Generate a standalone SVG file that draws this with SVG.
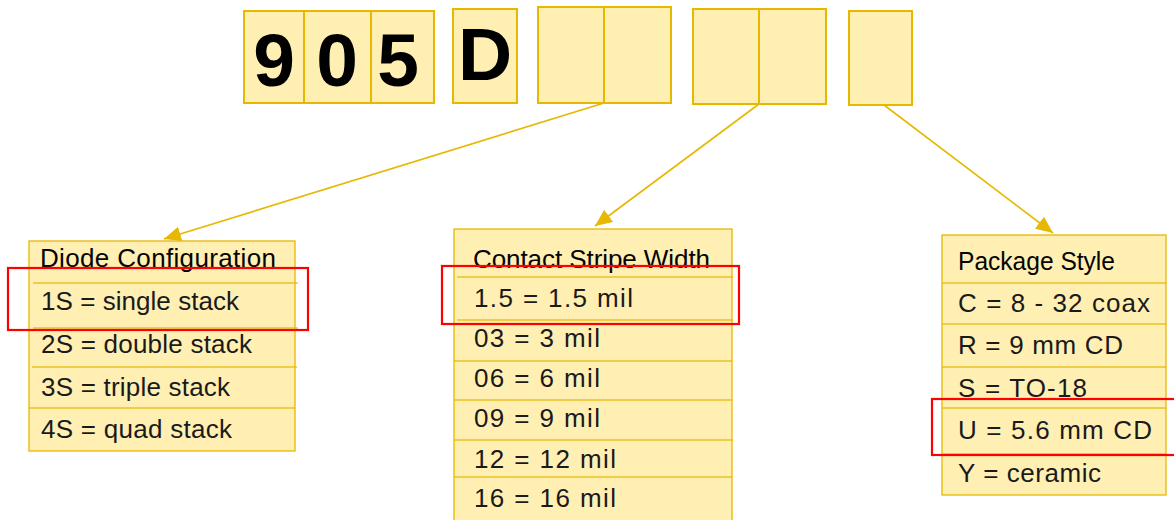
<svg xmlns="http://www.w3.org/2000/svg" width="1174" height="520" viewBox="0 0 1174 520">
  <defs>
    <style>
      .cell { fill: #FFEFB3; stroke: #E6B800; stroke-width: 2; }
      .tbl { fill: #FFEFB3; stroke: #E6B800; stroke-width: 1.3; }
      .rule { stroke: #E6B800; stroke-width: 1.3; opacity: 0.8; }
      .code { font-family: "Liberation Sans", Arial, sans-serif; font-weight: bold; font-size: 75px; fill: #000; text-anchor: middle; }
      .head { font-family: "Liberation Sans", Arial, sans-serif; font-size: 26px; fill: #050505; }
      .row { font-family: "Liberation Sans", Arial, sans-serif; font-size: 26px; fill: #1a1a1a; }
      .link { fill: none; stroke: #E6B800; stroke-width: 1.6; }
      .hl { fill: none; stroke: #FF0000; stroke-width: 2.2; }
    </style>
    <marker id="tri" viewBox="0 0 17 15" refX="17" refY="7.5" markerWidth="17" markerHeight="15" markerUnits="userSpaceOnUse" orient="auto">
      <path d="M0,0 L17,7.5 L0,15 Z" fill="#E6B800"/>
    </marker>
  </defs>

  <!-- part-number boxes -->
  <g id="prefix-905">
    <rect class="cell" x="244" y="11" width="60" height="92"/>
    <rect class="cell" x="304" y="11" width="67" height="92"/>
    <rect class="cell" x="371" y="11" width="63" height="92"/>
    <text class="code" x="274" y="86">9</text>
    <text class="code" x="337" y="86">0</text>
    <text class="code" x="398" y="86">5</text>
  </g>
  <g id="letter-d">
    <rect class="cell" x="453" y="9" width="64" height="94"/>
    <text class="code" x="485" y="80">D</text>
  </g>
  <g id="slot-config">
    <rect class="cell" x="538" y="7" width="66" height="96"/>
    <rect class="cell" x="604" y="7" width="67" height="96"/>
  </g>
  <g id="slot-width">
    <rect class="cell" x="693" y="9" width="66" height="95"/>
    <rect class="cell" x="759" y="9" width="67" height="95"/>
  </g>
  <g id="slot-package">
    <rect class="cell" x="849" y="11" width="63" height="94"/>
  </g>

  <!-- connectors -->
  <g id="connectors">
    <line class="link" x1="604" y1="103" x2="164" y2="239" marker-end="url(#tri)"/>
    <line class="link" x1="759" y1="104" x2="595" y2="226" marker-end="url(#tri)"/>
    <line class="link" x1="884" y1="105" x2="1053" y2="233" marker-end="url(#tri)"/>
  </g>

  <!-- Diode Configuration table -->
  <g id="table-config">
    <rect class="tbl" x="29" y="241" width="266" height="210"/>
    <line class="rule" x1="33" y1="283" x2="298" y2="283"/>
    <line class="rule" x1="33" y1="328" x2="298" y2="328"/>
    <line class="rule" x1="32" y1="367" x2="297" y2="367"/>
    <line class="rule" x1="29" y1="408" x2="295" y2="408"/>
    <text class="head" x="40" y="267" textLength="236" lengthAdjust="spacing">Diode Configuration</text>
    <text class="row" x="41" y="310" textLength="198" lengthAdjust="spacing">1S = single stack</text>
    <text class="row" x="41" y="353" textLength="211" lengthAdjust="spacing">2S = double stack</text>
    <text class="row" x="41" y="396" textLength="189" lengthAdjust="spacing">3S = triple stack</text>
    <text class="row" x="41" y="438" textLength="191" lengthAdjust="spacing">4S = quad stack</text>
  </g>

  <!-- Contact Stripe Width table -->
  <g id="table-width">
    <rect class="tbl" x="454" y="229" width="278" height="300"/>
    <line class="rule" x1="457" y1="277" x2="733" y2="277"/>
    <line class="rule" x1="457" y1="320" x2="733" y2="320"/>
    <line class="rule" x1="454" y1="361" x2="732" y2="361"/>
    <line class="rule" x1="454" y1="400" x2="732" y2="400"/>
    <line class="rule" x1="454" y1="440" x2="733" y2="440"/>
    <line class="rule" x1="454" y1="477" x2="732" y2="477"/>
    <text class="head" x="473" y="268" textLength="237" lengthAdjust="spacing">Contact Stripe Width</text>
    <text class="row" x="474" y="307" textLength="159" lengthAdjust="spacing">1.5 = 1.5 mil</text>
    <text class="row" x="474" y="347" textLength="126" lengthAdjust="spacing">03 = 3 mil</text>
    <text class="row" x="474" y="387" textLength="126" lengthAdjust="spacing">06 = 6 mil</text>
    <text class="row" x="474" y="427" textLength="126" lengthAdjust="spacing">09 = 9 mil</text>
    <text class="row" x="474" y="468" textLength="142" lengthAdjust="spacing">12 = 12 mil</text>
    <text class="row" x="474" y="507" textLength="142" lengthAdjust="spacing">16 = 16 mil</text>
  </g>

  <!-- Package Style table -->
  <g id="table-package">
    <rect class="tbl" x="942" y="235" width="224" height="260"/>
    <line class="rule" x1="942" y1="283" x2="1166" y2="283"/>
    <line class="rule" x1="942" y1="324" x2="1166" y2="324"/>
    <line class="rule" x1="942" y1="367" x2="1166" y2="367"/>
    <line class="rule" x1="942" y1="408" x2="1166" y2="408"/>
    <line class="rule" x1="942" y1="454" x2="1166" y2="454"/>
    <text class="head" x="958" y="270" font-size="25" textLength="157" lengthAdjust="spacingAndGlyphs">Package Style</text>
    <text class="row" x="958" y="312" textLength="192" lengthAdjust="spacing">C = 8 - 32 coax</text>
    <text class="row" x="958" y="354" textLength="165" lengthAdjust="spacing">R = 9 mm CD</text>
    <text class="row" x="958" y="397" textLength="129" lengthAdjust="spacing">S = TO-18</text>
    <text class="row" x="958" y="439" textLength="194" lengthAdjust="spacing">U = 5.6 mm CD</text>
    <text class="row" x="958" y="482" textLength="143" lengthAdjust="spacing">Y = ceramic</text>
  </g>

  <!-- highlighted selections -->
  <g id="highlights">
    <rect class="hl" x="8" y="268" width="300" height="62"/>
    <rect class="hl" x="442" y="266" width="297" height="58"/>
    <rect class="hl" x="932" y="399" width="250" height="56"/>
  </g>
</svg>
